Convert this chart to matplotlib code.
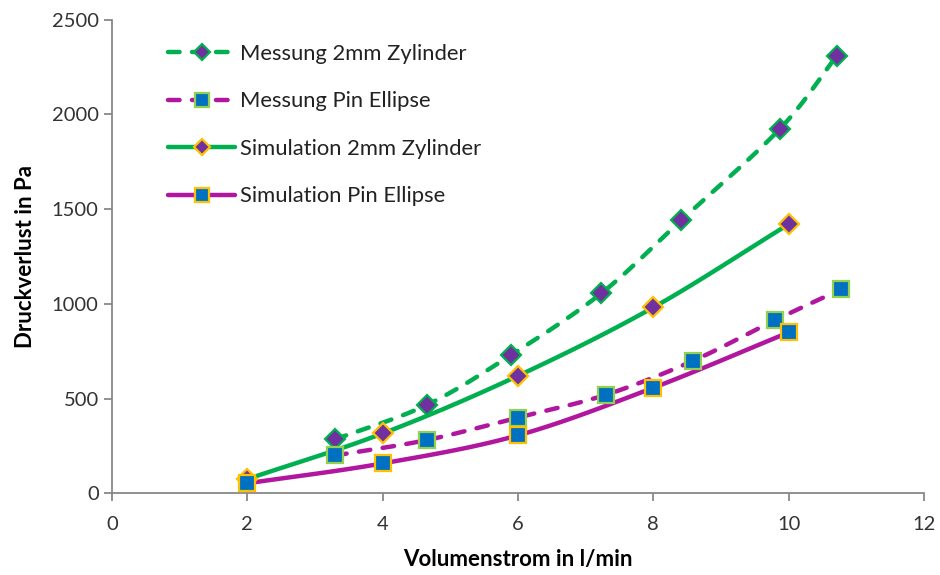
import numpy as np
import matplotlib
matplotlib.use("Agg")
import matplotlib.pyplot as plt

# Data
mess_zyl_x = [3.3, 4.65, 5.9, 7.23, 8.41, 9.87, 10.71]
mess_zyl_y = [285, 466, 730, 1055, 1440, 1923, 2308]
mess_pin_x = [3.3, 4.65, 6.0, 7.3, 8.58, 9.8, 10.77]
mess_pin_y = [200, 281, 400, 520, 698, 914, 1076]
sim_zyl_x = [2, 4, 6, 8, 10]
sim_zyl_y = [75, 316, 620, 981, 1420]
sim_pin_x = [2, 4, 6, 8, 10]
sim_pin_y = [53, 158, 306, 557, 849]

labels = ["Messung 2mm Zylinder", "Messung Pin Ellipse",
          "Simulation 2mm Zylinder", "Simulation Pin Ellipse"]
x_ticks = [0, 2, 4, 6, 8, 10, 12]
y_ticks = [0, 500, 1000, 1500, 2000, 2500]

GREEN = "#00B050"
MAGENTA = "#B0169E"
PURPLE = "#7030A0"
BLUE = "#0070C0"
ORANGE = "#FFC000"
LGREEN = "#92D050"


def smooth(x, y, n=30):
    """Catmull-Rom style smoothing (like Excel's smoothed lines)."""
    x = np.asarray(x, float); y = np.asarray(y, float)
    P = np.column_stack([x, y])
    P = np.vstack([P[0] - (P[1] - P[0]), P, P[-1] + (P[-1] - P[-2])])
    out = []
    t = np.linspace(0, 1, n)[:, None]
    for i in range(1, len(P) - 2):
        p0, p1, p2, p3 = P[i - 1], P[i], P[i + 1], P[i + 2]
        seg = 0.5 * ((2 * p1) + (-p0 + p2) * t +
                     (2 * p0 - 5 * p1 + 4 * p2 - p3) * t ** 2 +
                     (-p0 + 3 * p1 - 3 * p2 + p3) * t ** 3)
        out.append(seg if i == 1 else seg[1:])
    S = np.vstack(out)
    return S[:, 0], S[:, 1]


plt.rcParams['font.family'] = ['Lato', 'DejaVu Sans']

fig = plt.figure(figsize=(9.4, 5.75), dpi=100)
ax = fig.add_axes([0.119, 0.142, 0.864, 0.824])

lw = 3.2
dash = (0, (2.6, 2.8))

series = [
    (mess_zyl_x, mess_zyl_y, GREEN, dash, 'D', PURPLE, GREEN, 10),
    (mess_pin_x, mess_pin_y, MAGENTA, dash, 's', BLUE, LGREEN, 12),
    (sim_zyl_x, sim_zyl_y, GREEN, '-', 'D', PURPLE, ORANGE, 10),
    (sim_pin_x, sim_pin_y, MAGENTA, '-', 's', BLUE, ORANGE, 12),
]

handles = []
for (xs, ys, c, ls, mk, mfc, mec, ms), lab in zip(series, labels):
    sx, sy = smooth(xs, ys)
    ax.plot(sx, sy, color=c, lw=lw, linestyle=ls, solid_capstyle='round',
            dash_capstyle='round', zorder=2)
    ax.plot(xs, ys, linestyle='none', marker=mk, markersize=ms,
            markerfacecolor=mfc, markeredgecolor=mec, markeredgewidth=1.6, zorder=3)
    h, = ax.plot([], [], color=c, lw=lw, linestyle=ls, marker=mk, markersize=ms,
                 markerfacecolor=mfc, markeredgecolor=mec, markeredgewidth=1.6,
                 dash_capstyle='round', solid_capstyle='round')
    handles.append(h)

ax.set_xlim(0, 12)
ax.set_ylim(0, 2500)
ax.set_xticks(x_ticks)
ax.set_yticks(y_ticks)
ax.tick_params(axis='both', labelsize=14.5, colors='#333333', length=6,
               width=1.3, direction='out', color='#888888')
ax.tick_params(axis='x', pad=10)
for s in ['top', 'right']:
    ax.spines[s].set_visible(False)
for s in ['left', 'bottom']:
    ax.spines[s].set_color('#888888')
    ax.spines[s].set_linewidth(1.3)

ax.set_xlabel("Volumenstrom in l/min", fontsize=16, fontweight='bold', labelpad=12)
ax.set_ylabel("Druckverlust in Pa", fontsize=16, fontweight='bold', labelpad=11)

leg = ax.legend(handles, labels, loc='upper left', bbox_to_anchor=(0.045, 0.99),
                frameon=False, fontsize=15.8, handlelength=3.05, labelspacing=1.25,
                handletextpad=0.23, numpoints=1, markerscale=0.8)
for t in leg.get_texts():
    t.set_color('#222222')

fig.savefig("out.png", dpi=100)
